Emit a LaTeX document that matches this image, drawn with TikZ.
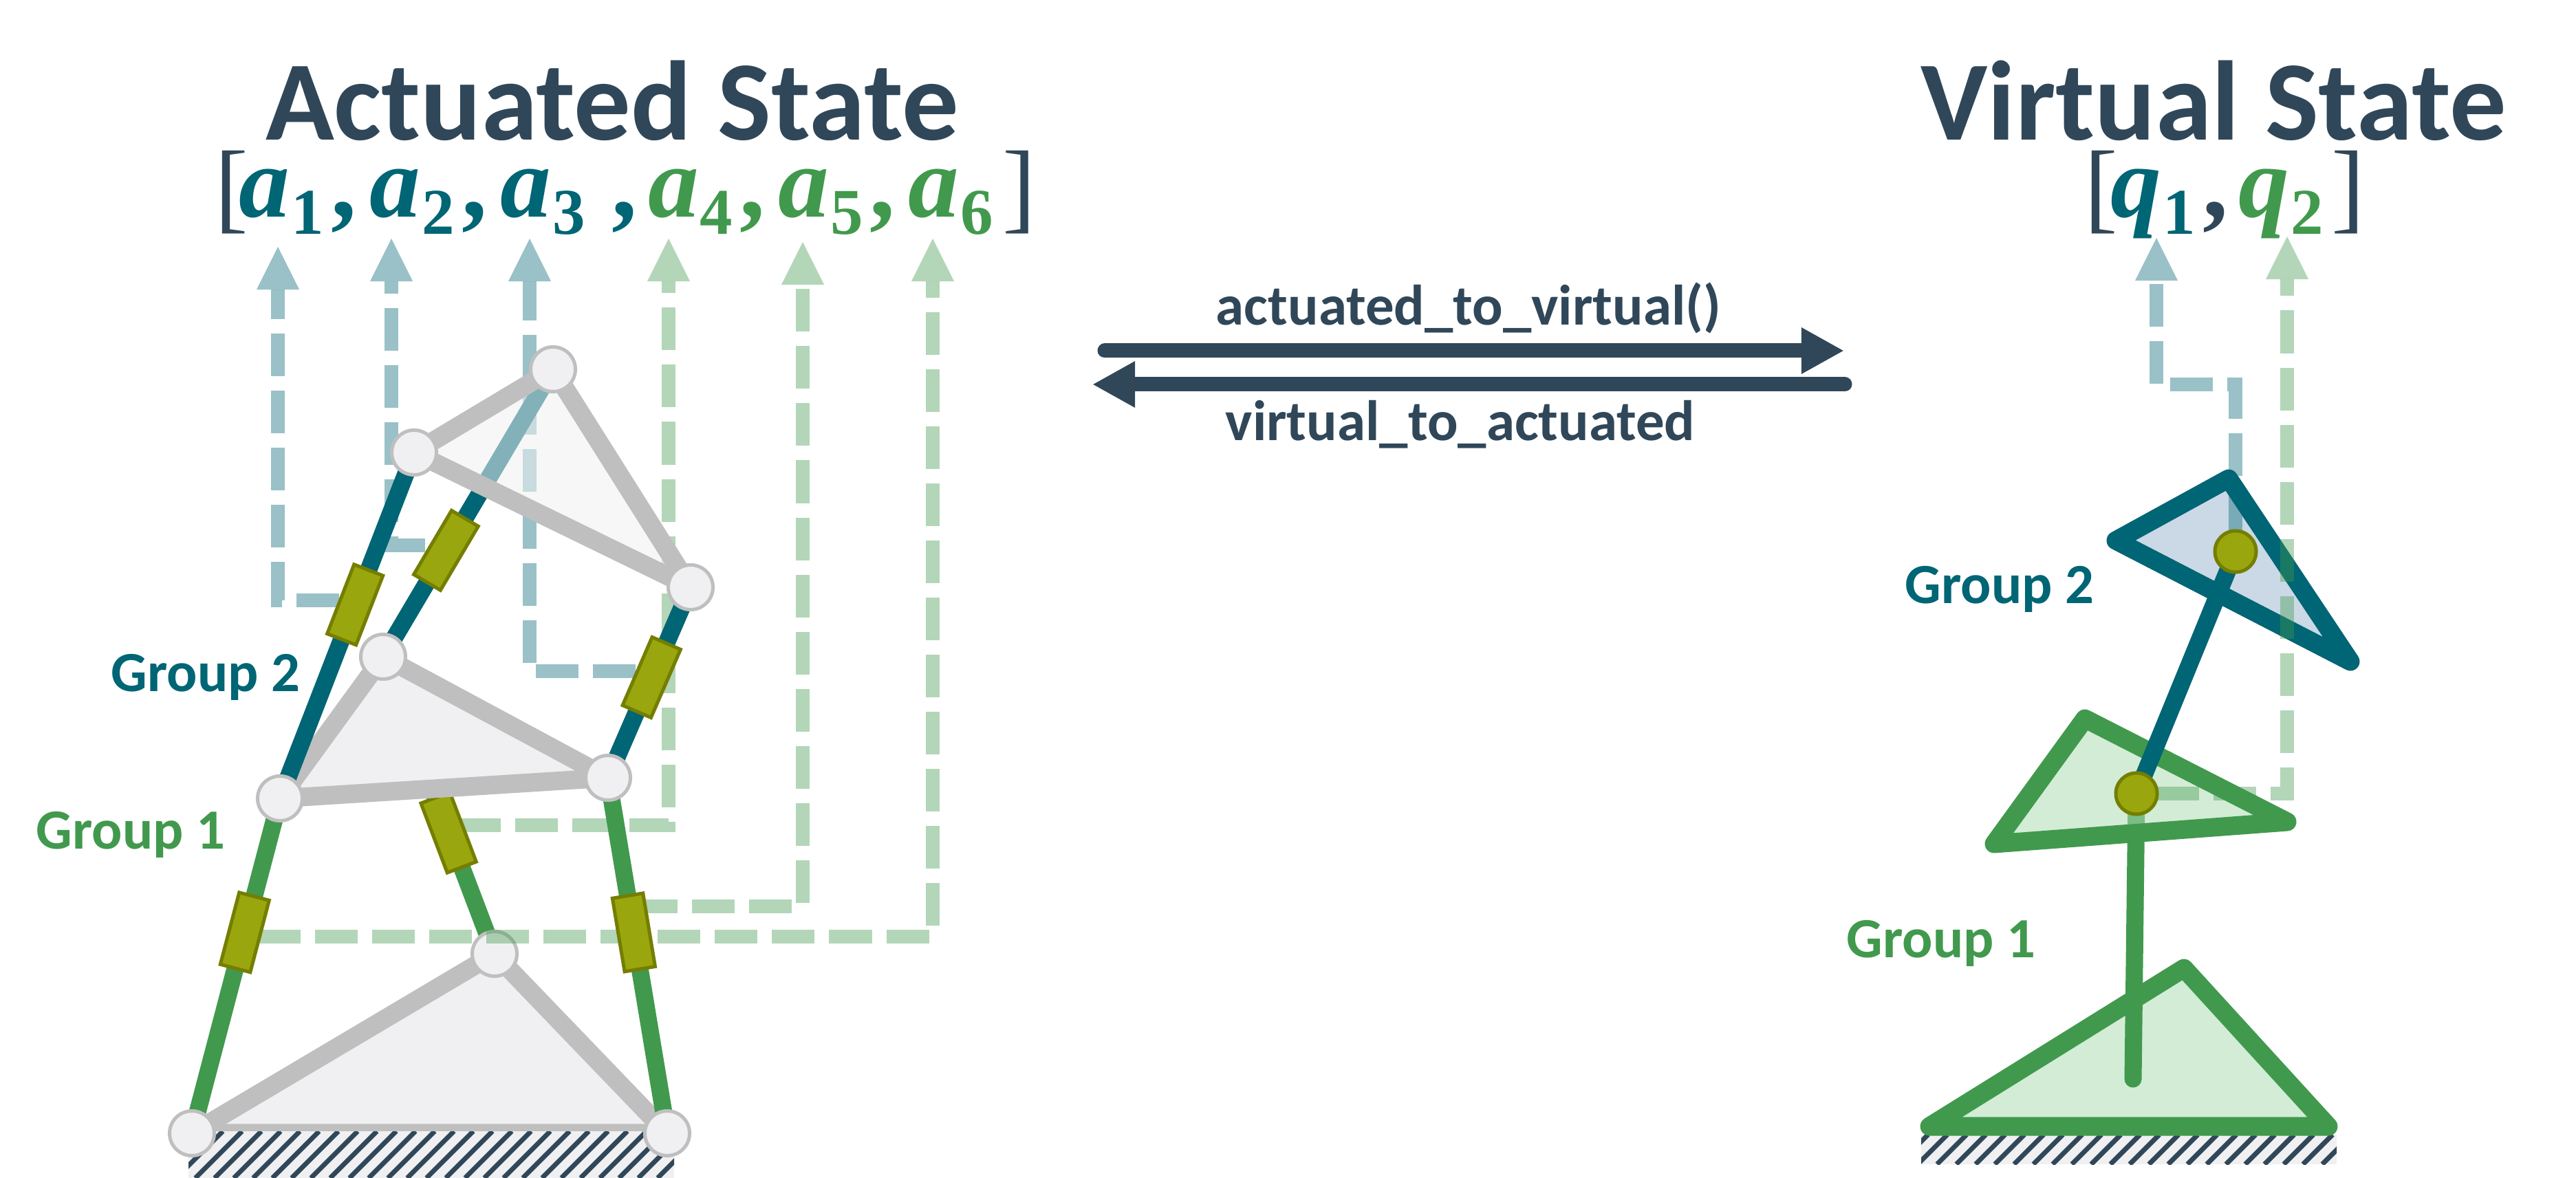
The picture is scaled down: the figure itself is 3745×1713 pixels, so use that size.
\documentclass[tikz,border=0pt]{standalone}
\usepackage{fontspec}
\setmainfont{Carlito}
\newfontfamily\vecfont{Liberation Serif}
\usetikzlibrary{arrows.meta}
\definecolor{statedark}{HTML}{304759}
\definecolor{grpteal}{HTML}{006574}
\definecolor{grpgreen}{HTML}{41994D}
\definecolor{linkgray}{HTML}{BFBFBF}
\definecolor{platefill}{HTML}{F0F0F2}
\definecolor{actfill}{HTML}{9AA60E}
\definecolor{actedge}{HTML}{747E00}
\definecolor{bodygreen}{HTML}{D2ECD6}
\definecolor{bodyteal}{HTML}{CAD9E5}
\definecolor{bodyveil}{HTML}{AEDCB5}
\newcommand{\stateterm}[5]{\makebox[#4][l]{\textcolor{#1}{\bfseries\itshape #2\upshape\hspace{.02cm}\raisebox{-.24cm}{\fontsize{27}{27}\selectfont #3}#5}}}
\newcommand{\vecbracket}[1]{\raisebox{-.05cm}{\fontsize{41.5}{50}\selectfont #1}}
\begin{document}
\begin{tikzpicture}[
  x=0.01cm, y=-0.01cm,
  title/.style={font=\fontsize{46.8}{50}\selectfont\bfseries, text=statedark, anchor=base, inner sep=0},
  vector/.style={font=\vecfont\fontsize{42}{50}\selectfont, text=statedark, anchor=base west, inner sep=0},
  grouplabel/.style={font=\fontsize{23.5}{26}\selectfont\bfseries, anchor=base west, inner sep=0},
  flowlabel/.style={font=\fontsize{23.6}{26}\selectfont\bfseries, text=statedark, anchor=base, inner sep=0},
  flow/.style={draw=statedark, line width=0.21cm, line cap=round, -{Triangle[width=0.63cm,length=0.62cm]}},
  plate/.style={draw=linkgray, fill=platefill, line width=0.27cm, line join=round},
  leg/.style={line width=0.25cm},
  actuator/.style={draw=actedge, fill=actfill, line width=0.05cm, minimum width=1.08cm, minimum height=0.45cm, inner sep=0},
  joint/.style={circle, draw=linkgray, fill=platefill, line width=0.05cm, minimum size=0.65cm, inner sep=0},
  pivot/.style={circle, draw=actedge, fill=actfill, line width=0.05cm, minimum size=0.6cm, inner sep=0},
  statearrow/.style={line width=0.205cm, dash pattern=on 0.62cm off 0.21cm, opacity=0.4, -{Triangle[width=0.62cm,length=0.62cm,line width=0pt]}},
  body/.style={line width=0.27cm, line join=round, line cap=round},
  stripe/.style={draw=statedark, line width=0.07cm}
]
\useasboundingbox (0,0) rectangle (3745,1713);
% joints of the platform
\coordinate (baseL) at (279,1648);
\coordinate (baseR) at (970,1648);
\coordinate (baseT) at (719,1387);
\coordinate (midL) at (407,1161);
\coordinate (midR) at (884,1131);
\coordinate (midT) at (557,955);
\coordinate (midB) at (628,1147);
\coordinate (topL) at (602,658);
\coordinate (topR) at (1004,854);
\coordinate (topT) at (804,537);
% ends of the dashed lines
\coordinate (s1) at (493,873);  \coordinate (t1) at (404,359);
\coordinate (s2) at (618,793);  \coordinate (t2) at (569,347);
\coordinate (s3) at (924,976);  \coordinate (t3) at (770,347);
\coordinate (s4) at (666,1200); \coordinate (t4) at (972,347);
\coordinate (s5) at (923,1318); \coordinate (t5) at (1167,352);
\coordinate (s6) at (375,1362); \coordinate (t6) at (1356,347);
% titles and vectors
\node[title] (actuatedtitle) at (890,204) {Actuated State};
\node[title] (virtualtitle) at (3218,204) {Virtual State};
\node[vector] (actuatedvec) at (312,316) {\makebox[0.35cm][l]{\vecbracket{[}}%
  \stateterm{grpteal}{a}{1}{1.9cm}{\hspace{.1cm},}%
  \stateterm{grpteal}{a}{2}{1.9cm}{\hspace{.1cm},}%
  \stateterm{grpteal}{a}{3}{2.14cm}{\hspace{.38cm},}%
  \stateterm{grpgreen}{a}{4}{1.89cm}{\hspace{.1cm},}%
  \stateterm{grpgreen}{a}{5}{1.89cm}{\hspace{.1cm},}%
  \stateterm{grpgreen}{a}{6}{1.37cm}{}\vecbracket{]}};
\node[vector] (virtualvec) at (3030,316) {\makebox[0.38cm][l]{\vecbracket{[}}%
  \stateterm{grpteal}{q}{1}{1.86cm}{\hspace{.1cm}\textcolor{statedark}{,}}%
  \stateterm{grpgreen}{q}{2}{1.35cm}{}\vecbracket{]}};
% conversion arrows
\coordinate (flowA) at (1606,510);
\coordinate (flowB) at (2681,510);
\coordinate (flowC) at (2682,559);
\coordinate (flowD) at (1588,559);
\draw[flow] (flowA) -- (flowB);
\draw[flow] (flowC) -- (flowD);
\node[flowlabel] (tovirtual) at (2135,473) {actuated\_to\_virtual()};
\node[flowlabel] (toactuated) at (2123,641) {virtual\_to\_actuated};
% actuated side
\draw[plate] (baseL) -- (baseT) -- (baseR) -- cycle;
\fill[platefill] (274,1645) rectangle (980,1713);
\begin{scope}
\clip (274,1645) rectangle (980,1713);
\foreach \x in {200,228,...,1000}
  \draw[stripe] (\x,1713) -- ++(68,-68);
\end{scope}
\draw[leg, grpgreen] (baseT) -- (midB);
\node[joint] (jbaseT) at (baseT) {};
\draw[statearrow, grpteal] (s1) -| (t1);
\draw[statearrow, grpteal] (s2) -| (t2);
\draw[statearrow, grpteal] (s3) -| (t3);
\draw[statearrow, grpgreen] (s4) -| (t4);
\draw[statearrow, grpgreen] (s5) -| (t5);
\draw[statearrow, grpgreen] (s6) -| (t6);
\draw[leg, grpgreen] (baseL) -- node[actuator, pos=0.6, sloped] (act1) {} (midL);
\draw[leg, grpgreen] (baseR) -- node[actuator, pos=0.565, sloped] (act2) {} (midR);
\path (baseT) -- node[actuator, pos=0.735, sloped] (act3) {} (midB);
\draw[plate] (midL) -- (midT) -- (midR) -- cycle;
\draw[leg, grpteal] (midL) -- node[actuator, pos=0.56, sloped] (act4) {} (topL);
\draw[leg, grpteal] (midT) -- node[actuator, pos=0.37, sloped] (act5) {} (topT);
\draw[leg, grpteal] (midR) -- node[actuator, pos=0.527, sloped] (act6) {} (topR);
\fill[platefill, opacity=0.55] (topL) -- (topT) -- (topR) -- cycle;
\draw[linkgray, line width=0.27cm, line join=round] (topL) -- (topT) -- (topR) -- cycle;
\node[joint] (jbaseL) at (baseL) {};
\node[joint] (jbaseR) at (baseR) {};
\node[joint] (jmidL) at (midL) {};
\node[joint] (jmidR) at (midR) {};
\node[joint] (jmidT) at (midT) {};
\node[joint] (jtopL) at (topL) {};
\node[joint] (jtopR) at (topR) {};
\node[joint] (jtopT) at (topT) {};
\node[grouplabel, text=grpteal] (group2a) at (161,1006) {Group 2};
\node[grouplabel, text=grpgreen] (group1a) at (52,1234) {Group 1};
% virtual side
\coordinate (vbaseL) at (2805,1638);
\coordinate (vbaseR) at (3385,1638);
\coordinate (vbaseT) at (3175,1408);
\coordinate (vmidL) at (2899,1227);
\coordinate (vmidR) at (3325,1195);
\coordinate (vmidT) at (3031,1045);
\coordinate (vtopL) at (3076,786);
\coordinate (vtopR) at (3417,962);
\coordinate (vtopT) at (3240,696);
\coordinate (vfoot) at (3101,1569);
\coordinate (vq1) at (3250,802);
\coordinate (vq2) at (3106,1154);
\coordinate (s7) at (3250,775);  \coordinate (t7) at (3135,346);
\coordinate (s8) at (3135,1154); \coordinate (t8) at (3325,344);
\fill[platefill] (2793,1650) rectangle (3397,1693);
\begin{scope}
\clip (2793,1650) rectangle (3397,1693);
\foreach \x in {2760,2788,...,3420}
  \draw[stripe] (\x,1693) -- ++(43,-43);
\end{scope}
\draw[body, draw=grpgreen, fill=bodygreen] (vbaseL) -- (vbaseT) -- (vbaseR) -- cycle;
\draw[leg, grpgreen, line cap=round] (vfoot) -- (vq2);
\fill[bodyveil, opacity=0.55] (vmidL) -- (vmidT) -- (vmidR) -- cycle;
\draw[body, draw=grpgreen] (vmidL) -- (vmidT) -- (vmidR) -- cycle;
\draw[body, draw=grpteal, fill=bodyteal] (vtopL) -- (vtopT) -- (vtopR) -- cycle;
\draw[leg, grpteal] (vq2) -- (vq1);
\draw[statearrow, grpteal] (s7) |- (3135,559) -- (t7);
\draw[statearrow, grpgreen] (s8) -| (t8);
\node[pivot] (pivotq1) at (vq1) {};
\node[pivot] (pivotq2) at (vq2) {};
\node[grouplabel, text=grpteal] (group2b) at (2769,878) {Group 2};
\node[grouplabel, text=grpgreen] (group1b) at (2684,1392) {Group 1};
\end{tikzpicture}
\end{document}
